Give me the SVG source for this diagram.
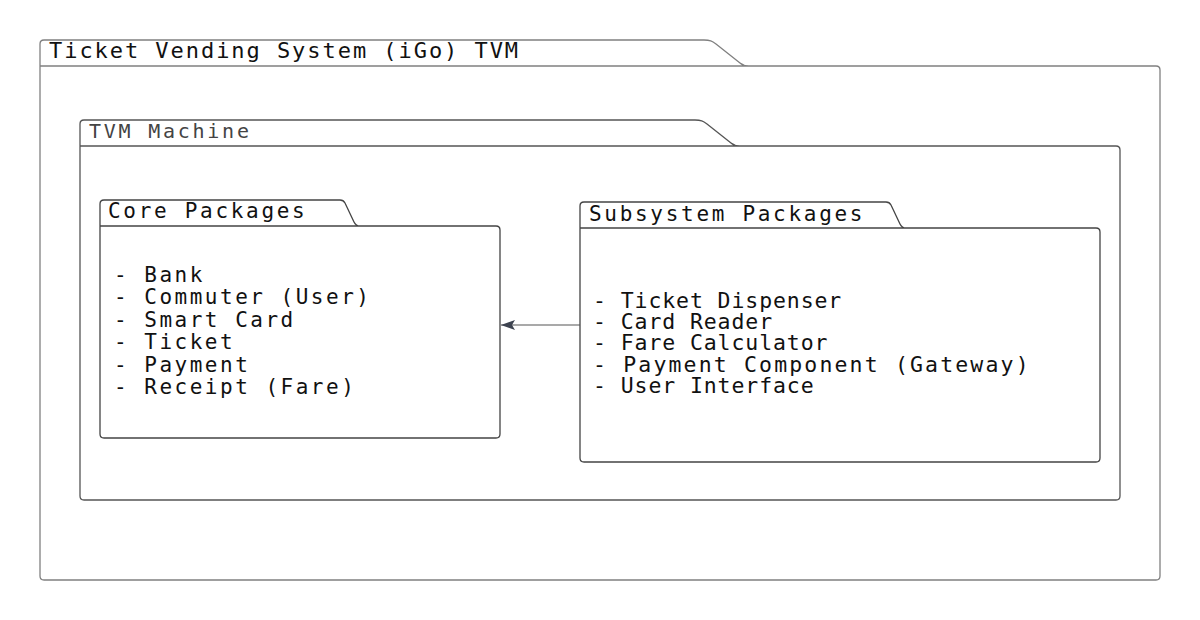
<svg xmlns="http://www.w3.org/2000/svg" width="1200" height="620" viewBox="0 0 1200 620">
<defs>
<style>
.pkg{fill:none;stroke-linejoin:round}
.t{font-family:"DejaVu Sans Mono","Liberation Mono",monospace;fill:#111}
.ttl{font-size:22px;letter-spacing:1.95px}
.tab{font-size:21px;letter-spacing:2.7px}
.core{font-size:21px;letter-spacing:2.5px}
.sub{font-size:21.5px;letter-spacing:0.9px}
.conn{stroke:#555;stroke-width:1.2;fill:none}
</style>
<marker id="ah" viewBox="0 0 14 10" refX="14" refY="5" markerWidth="14" markerHeight="10" markerUnits="userSpaceOnUse" orient="auto">
<path d="M0,0 L14,5 L0,10 L3,5 Z" fill="#3d4350"/>
</marker>
</defs>
<rect width="1200" height="620" fill="#fff"/>
<g id="outer">
<path class="pkg" stroke="#808080" stroke-width="1.3" d="M44,40 H704 C710,40 712,41 716,44 L740,63 C743,65.5 745,66 749,66 H1156 Q1160,66 1160,70 V576 Q1160,580 1156,580 H44 Q40,580 40,576 V44 Q40,40 44,40 Z M40,66 H749"/>
<text class="t ttl" x="49" y="58">Ticket Vending System (iGo) TVM</text>
</g>
<g id="tvm">
<path class="pkg" stroke="#555" stroke-width="1.3" d="M84,120 H695 C701,120 703,121 707,124 L731,143 C734,145.5 736,146 740,146 H1116 Q1120,146 1120,150 V496 Q1120,500 1116,500 H84 Q80,500 80,496 V124 Q80,120 84,120 Z M80,146 H740"/>
<text class="t" x="89" y="137.5" style="fill:#444;font-size:20px;letter-spacing:2.75px">TVM Machine</text>
</g>
<g id="core">
<path class="pkg" stroke="#444" stroke-width="1.3" d="M104,200 H340 C343,200 344,201 345,203 L354,222 C355.5,225 357,226 360,226 H496 Q500,226 500,230 V434 Q500,438 496,438 H104 Q100,438 100,434 V204 Q100,200 104,200 Z M100,226 H360"/>
<text class="t tab" x="108" y="218">Core Packages</text>
<text class="t core" x="114" y="281.5">- Bank</text>
<text class="t core" x="114" y="304">- Commuter (User)</text>
<text class="t core" x="114" y="326.5">- Smart Card</text>
<text class="t core" x="114" y="349">- Ticket</text>
<text class="t core" x="114" y="371.5">- Payment</text>
<text class="t core" x="114" y="394">- Receipt (Fare)</text>
</g>
<g id="subsystem">
<path class="pkg" stroke="#444" stroke-width="1.3" d="M584,202 H886 C889,202 890,203 891,205 L900,224 C901.5,227 903,228 906,228 H1096 Q1100,228 1100,232 V458 Q1100,462 1096,462 H584 Q580,462 580,458 V206 Q580,202 584,202 Z M580,228 H906"/>
<text class="t tab" x="589" y="221">Subsystem Packages</text>
<text class="t sub" x="593" y="307.5">- Ticket Dispenser</text>
<text class="t sub" x="593" y="329">- Card Reader</text>
<text class="t sub" x="593" y="350">- Fare Calculator</text>
<text class="t sub" x="593" y="371.5" style="letter-spacing:2.15px">- Payment Component (Gateway)</text>
<text class="t sub" x="593" y="392.5">- User Interface</text>
</g>
<g id="connectors">
<line class="conn" x1="580" y1="325" x2="501" y2="325" marker-end="url(#ah)"/>
</g>
</svg>
